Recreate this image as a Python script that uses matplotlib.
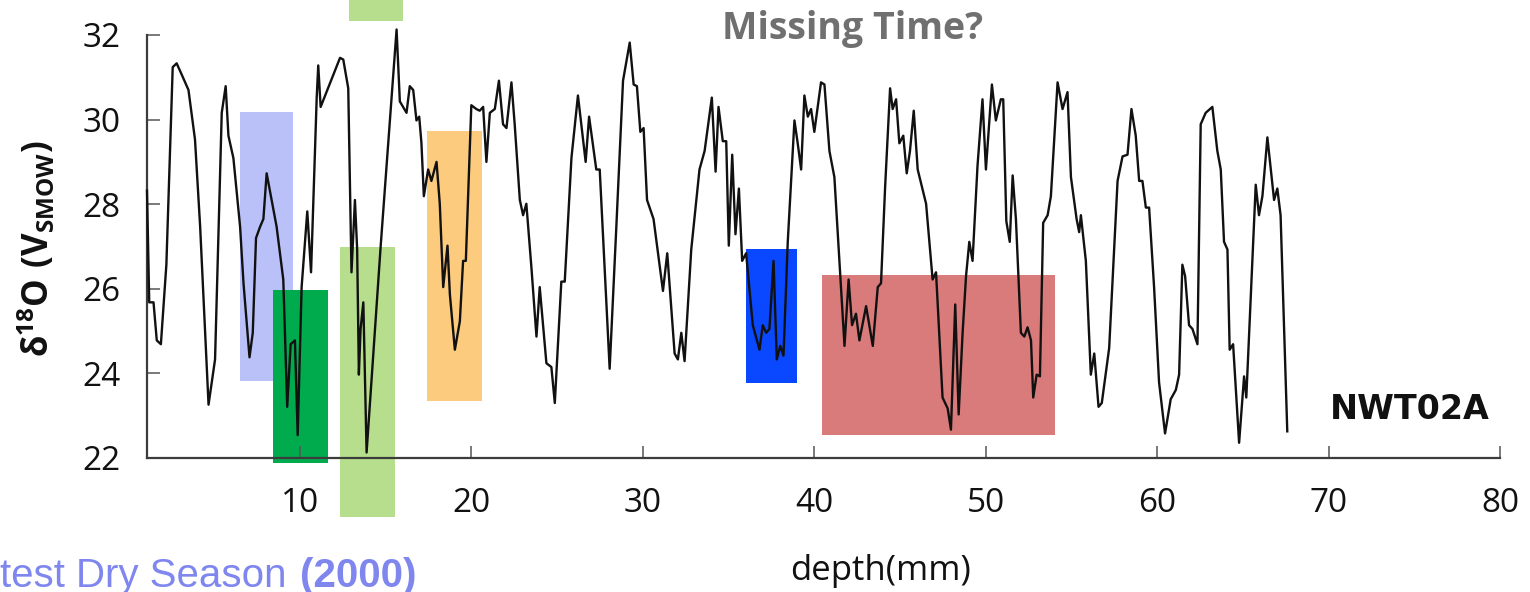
import matplotlib
matplotlib.use("Agg")
import matplotlib.pyplot as plt
from matplotlib.patches import Rectangle

# depth (mm) and d18O values
depth = [1.07, 1.2, 1.45, 1.64, 1.88, 2.2, 2.57, 2.8, 3.1, 3.49, 3.87, 4.17, 4.66, 5.04,
         5.43, 5.66, 5.82, 6.11, 6.5, 6.7, 7.05, 7.24, 7.43, 7.67, 7.86, 8.05, 8.63, 9.02,
         9.25, 9.45, 9.7, 9.86, 10.09, 10.42, 10.64, 10.97, 11.06, 11.2, 12.33, 12.52,
         12.81, 13.0, 13.2, 13.33, 13.43, 13.53, 13.69, 13.88, 14.7, 15.63, 15.82, 16.21,
         16.4, 16.6, 16.79, 16.95, 17.08, 17.22, 17.47, 17.66, 17.96, 18.15, 18.35, 18.6,
         18.74, 19.03, 19.32, 19.51, 19.67, 19.99, 20.28, 20.48, 20.68, 20.87, 21.07,
         21.36, 21.6, 21.84, 22.04, 22.33, 22.52, 22.82, 23.01, 23.2, 23.5, 23.79, 23.98,
         24.37, 24.66, 24.86, 25.24, 25.44, 25.83, 26.21, 26.66, 26.86, 27.28, 27.48,
         28.06, 28.45, 28.84, 29.23, 29.46, 29.65, 29.85, 30.04, 30.24, 30.62, 31.17,
         31.42, 31.85, 32.04, 32.24, 32.43, 32.82, 33.3, 33.6, 34.02, 34.24, 34.41, 34.66,
         34.86, 35.01, 35.21, 35.4, 35.6, 35.79, 36.02, 36.41, 36.8, 36.99, 37.19, 37.38,
         37.62, 37.81, 38.01, 38.2, 38.45, 38.84, 39.03, 39.23, 39.42, 39.62, 39.81, 40.0,
         40.39, 40.59, 40.88, 41.17, 41.46, 41.76, 42.0, 42.2, 42.43, 42.63, 43.02, 43.41,
         43.7, 43.89, 44.13, 44.42, 44.57, 44.77, 44.96, 45.19, 45.39, 45.58, 45.8, 46.03,
         46.52, 46.9, 47.1, 47.48, 47.78, 47.97, 48.22, 48.42, 48.65, 48.85, 49.04, 49.23,
         49.52, 49.81, 50.01, 50.36, 50.59, 50.88, 51.02, 51.2, 51.4, 51.57, 51.76, 52.05,
         52.25, 52.44, 52.64, 52.77, 52.97, 53.16, 53.35, 53.61, 53.8, 54.19, 54.48, 54.77,
         54.97, 55.3, 55.45, 55.55, 55.84, 56.13, 56.33, 56.58, 56.77, 57.2, 57.69, 57.98,
         58.27, 58.5, 58.75, 58.95, 59.14, 59.34, 59.53, 59.82, 60.11, 60.46, 60.79, 61.09,
         61.28, 61.47, 61.63, 61.86, 62.06, 62.35, 62.54, 62.83, 63.22, 63.51, 63.71, 63.9,
         64.1, 64.23, 64.43, 64.78, 65.07, 65.2, 65.75, 65.94, 66.14, 66.43, 66.82, 67.01,
         67.2, 67.59]
d18o = [28.32, 25.68, 25.68, 24.78, 24.69, 26.57, 31.24, 31.33, 31.06, 30.7, 29.53, 27.47,
        23.26, 24.33, 30.16, 30.79, 29.62, 29.09, 27.47, 26.13, 24.38, 24.96, 27.2, 27.47,
        27.65, 28.73, 27.47, 26.22, 23.21, 24.69, 24.78, 22.54, 26.04, 27.83, 26.39, 30.52,
        31.28, 30.3, 31.46, 31.42, 30.74, 26.39, 28.1, 26.93, 23.97, 25.05, 25.68, 22.13,
        27.0, 32.13, 30.43, 30.16, 30.79, 30.7, 29.98, 30.07, 29.44, 28.19, 28.82, 28.55,
        29.0, 28.01, 26.04, 27.02, 25.86, 24.56, 25.23, 26.66, 26.66, 30.34, 30.25, 30.21,
        30.3, 29.0, 30.16, 30.25, 30.92, 29.89, 29.8, 30.88, 29.89, 28.1, 27.74, 28.01,
        26.48, 24.87, 26.04, 24.24, 24.15, 23.3, 26.17, 26.17, 29.09, 30.57, 29.0, 30.07,
        28.82, 28.82, 24.11, 27.47, 30.92, 31.82, 30.83, 30.79, 29.71, 29.8, 28.1, 27.65,
        25.95, 26.84, 24.47, 24.33, 24.96, 24.29, 26.93, 28.82, 29.26, 30.52, 28.77, 30.3,
        29.49, 29.49, 27.02, 29.17, 27.29, 28.37, 26.66, 26.84, 25.14, 24.56, 25.14, 24.96,
        25.05, 26.66, 24.33, 24.65, 24.42, 27.11, 29.98, 29.44, 28.82, 30.57, 30.07, 30.25,
        29.71, 30.88, 30.83, 29.26, 28.64, 26.66, 24.65, 26.22, 25.14, 25.41, 24.78, 25.59,
        24.65, 26.04, 26.13, 28.41, 30.74, 30.25, 30.48, 29.44, 29.62, 28.73, 29.26, 30.21,
        28.82, 28.01, 26.22, 26.39, 23.43, 23.17, 22.67, 25.63, 23.03, 24.96, 26.3, 27.11,
        26.66, 28.91, 30.48, 28.82, 30.83, 29.98, 30.48, 30.48, 27.6, 27.11, 28.68, 27.65,
        24.96, 24.87, 25.09, 24.78, 23.43, 23.97, 23.93, 27.56, 27.74, 28.19, 30.88, 30.25,
        30.65, 28.64, 27.65, 27.34, 27.74, 26.66, 23.97, 24.47, 23.21, 23.3, 24.6, 28.55,
        29.13, 29.17, 30.25, 29.62, 28.55, 28.55, 27.92, 27.92, 26.04, 23.79, 22.58, 23.39,
        23.61, 23.97, 26.57, 26.3, 25.14, 25.05, 24.69, 29.89, 30.16, 30.3, 29.26, 28.82,
        27.11, 26.93, 24.56, 24.69, 22.36, 23.93, 23.43, 28.46, 27.74, 28.19, 29.58, 28.1,
        28.37, 27.74, 22.63]

# highlighted seasons (depth range, d18O range)
span_x0 = [6.5, 8.43, 12.32, 12.85, 17.43, 36.0, 40.43]
span_x1 = [9.59, 11.62, 15.53, 16.02, 20.62, 38.98, 54.05]
span_y0 = [23.82, 21.87, 20.6, 32.32, 23.35, 23.78, 22.54]
span_y1 = [30.18, 25.97, 26.98, 33.2, 29.73, 26.93, 26.33]
span_colors = ['#bac1f8', '#00ab4e', '#b7de8d', '#b7de8d', '#fdcb7e', '#0a48ff', '#d97b7b']

x_ticks = [10, 20, 30, 40, 50, 60, 70, 80]
y_ticks = [22, 24, 26, 28, 30, 32]

plt.rcParams['font.family'] = ['Open Sans', 'DejaVu Sans']
plt.rcParams['mathtext.fontset'] = 'custom'
plt.rcParams['mathtext.rm'] = 'Open Sans'
plt.rcParams['mathtext.bf'] = 'Open Sans:bold'

W, H = 1530, 592
fig = plt.figure(figsize=(W / 100, H / 100), dpi=100)
ax = fig.add_axes([147 / W, 1 - 458 / H, (1500 - 147) / W, (458 - 35) / H])

for x0, x1, y0, y1, c in zip(span_x0, span_x1, span_y0, span_y1, span_colors):
    ax.add_patch(Rectangle((x0, y0), x1 - x0, y1 - y0, facecolor=c,
                           edgecolor='none', zorder=1, clip_on=False))

ax.plot(depth, d18o, color='#111111', lw=1.7, zorder=3, clip_on=False)

ax.set_xlim(1.07, 80)
ax.set_ylim(22, 32)
ax.set_xticks(x_ticks)
ax.set_yticks(y_ticks)
ax.spines['top'].set_visible(False)
ax.spines['right'].set_visible(False)
for s in ['left', 'bottom']:
    ax.spines[s].set_color('#3c3c3c')
    ax.spines[s].set_linewidth(1.6)
    ax.spines[s].set_zorder(2.5)
ax.tick_params(direction='in', length=9, width=1.1, color='#555555',
               labelsize=24, labelcolor='#111111')
ax.tick_params(axis='x', pad=21)
ax.tick_params(axis='y', pad=19)

fig.text(36 / W, 1 - 249 / H, r'$\mathbf{δ^{18}O\ (V_{SMOW})}$', rotation=90,
         ha='center', va='center', fontsize=25, color='#111111')
fig.text(881 / W, 1 - 580 / H, 'depth(mm)', ha='center', va='baseline',
         fontsize=25, color='#111111')
fig.text(853 / W, 1 - 29 / H, 'Missing Time?', ha='center', va='center',
         fontsize=27, fontweight='bold', color='#707070')
fig.text(1490 / W, 1 - 419 / H, 'NWT02A', ha='right', va='baseline',
         fontsize=24, fontweight='bold', family='DejaVu Sans', color='#111111')
fig.text(0, 1 - 587 / H, 'test Dry Season', ha='left', va='baseline',
         fontsize=29, family='Liberation Sans', color='#7f86ee')
fig.text(300 / W, 1 - 587 / H, '(2000)', ha='left', va='baseline',
         fontsize=29, fontweight='bold', family='Liberation Sans', color='#7f86ee')

fig.savefig('out.png', dpi=100)
